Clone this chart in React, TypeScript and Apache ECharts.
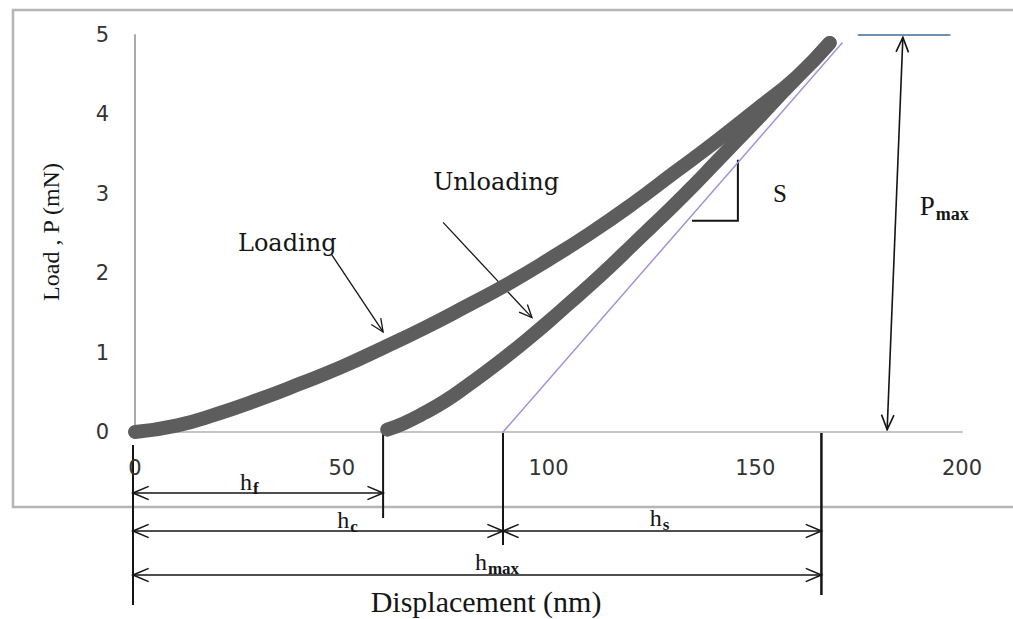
import React, { useEffect, useRef } from "react";
import * as echarts from "echarts";

// ---- data ----
const xTicks = [0, 50, 100, 150, 200];
const yTicks = [0, 1, 2, 3, 4, 5];

const loadingDepth = [0, 10, 20, 30, 40, 50, 60, 70, 80, 90, 100, 110, 120, 130, 140, 150, 160, 168];
const loadingLoad = [0, 0.08, 0.23, 0.41, 0.61, 0.82, 1.06, 1.31, 1.58, 1.86, 2.17, 2.5, 2.86, 3.25, 3.64, 4.05, 4.47, 4.9];

const unloadingDepth = [61, 65, 70, 75, 80, 85, 90, 95, 100, 105, 110, 115, 120, 125, 130, 135, 140, 145, 150, 155, 160, 165, 168];
const unloadingLoad = [0.03, 0.11, 0.24, 0.39, 0.57, 0.76, 0.96, 1.17, 1.39, 1.62, 1.85, 2.09, 2.34, 2.59, 2.84, 3.1, 3.37, 3.64, 3.91, 4.19, 4.46, 4.73, 4.9];

const tangentDepth = [89, 171];
const tangentLoad = [0, 4.9];

const pmaxLineDepth = [175, 197];
const pmaxLineLoad = [5, 5];

// key depths / loads used by the annotations
const hf = 60;
const hc = 89;
const hmax = 166;
const pmaxArrowTop = [185.7, 4.97];
const pmaxArrowBottom = [181.9, 0.03];
const loadingArrow = [[47.6, 2.23], [60, 1.26]];
const unloadingArrow = [[74.5, 2.64], [96, 1.44]];
const slopeTri = { x0: 134.7, x1: 145.8, yTop: 3.43, yBot: 2.66 };

const zip = (a: number[], b: number[]) => a.map((v, i) => [v, b[i]]);

const CURVE = "#5d5d5d";
const INK = "#151515";

export default function App() {
  const ref = useRef<HTMLDivElement | null>(null);
  useEffect(() => {
    const el = ref.current!;
    const chart = echarts.init(el, null, { renderer: "svg" });
    const lineSeries = (data: number[][], color: string, width: number, z: number) => ({
      type: "line",
      data,
      smooth: 0.5,
      showSymbol: false,
      symbol: "none",
      clip: false,
      z,
      lineStyle: { color, width, cap: "round", join: "round" },
      silent: true,
    });
    chart.setOption({
      animation: false,
      backgroundColor: "#ffffff",
      grid: { left: 135, right: 51, top: 35, bottom: 187, containLabel: false, outerBoundsMode: "none" },
      xAxis: {
        type: "value",
        min: 0,
        max: 200,
        interval: 50,
        axisLine: { show: true, onZero: false, lineStyle: { color: "#c4c4c4", width: 2 } },
        axisTick: { show: false },
        splitLine: { show: false },
        axisLabel: {
          margin: 25,
          color: "#333",
          fontFamily: "DejaVu Sans",
          fontSize: 21,
          formatter: (v: number) => (xTicks.includes(v) ? String(v) : ""),
        },
      },
      yAxis: {
        type: "value",
        min: 0,
        max: 5,
        interval: 1,
        axisLine: { show: true, onZero: false, lineStyle: { color: "#ababab", width: 2 } },
        axisTick: { show: false },
        splitLine: { show: false },
        axisLabel: {
          margin: 26,
          color: "#333",
          fontFamily: "DejaVu Sans",
          fontSize: 21,
          formatter: (v: number) => (yTicks.includes(v) ? String(v) : ""),
        },
      },
      series: [
        lineSeries(zip(tangentDepth, tangentLoad), "#a592d6", 1.5, 1),
        lineSeries(zip(pmaxLineDepth, pmaxLineLoad), "#6f8fb5", 2, 1),
        lineSeries(zip(loadingDepth, loadingLoad), CURVE, 14, 2),
        lineSeries(zip(unloadingDepth, unloadingLoad), CURVE, 14, 2),
      ],
    });

    const P = (x: number, y: number) => chart.convertToPixel({ gridIndex: 0 }, [x, y]) as number[];
    const X = (x: number) => P(x, 0)[0];
    const Y0 = P(0, 0)[1];

    const seg = (x1: number, y1: number, x2: number, y2: number, w = 2, stroke = INK) => ({
      type: "line",
      silent: true,
      shape: { x1, y1, x2, y2 },
      style: { stroke, lineWidth: w },
    });
    const head = (tx: number, ty: number, fx: number, fy: number, len = 17, spread = 0.4, w = 1.6) => {
      const a = Math.atan2(ty - fy, tx - fx);
      return {
        type: "polyline",
        silent: true,
        shape: {
          points: [
            [tx - len * Math.cos(a - spread), ty - len * Math.sin(a - spread)],
            [tx, ty],
            [tx - len * Math.cos(a + spread), ty - len * Math.sin(a + spread)],
          ],
        },
        style: { stroke: INK, lineWidth: w, fill: null },
      };
    };
    const txt = (text: string, x: number, y: number, font: string, align = "left", vAlign = "middle", extra: any = {}) => ({
      type: "text",
      silent: true,
      x,
      y,
      ...extra,
      style: { text, x: 0, y: 0, font, fill: INK, align, verticalAlign: vAlign, textAlign: align, textVerticalAlign: vAlign },
    });
    const SERIF_T = '"Liberation Serif", "Times New Roman", serif';
    const SERIF_D = '"DejaVu Serif", serif';
    const sub = (h: string, s: string, x: number, yTop: number, hSize = 24, sSize = 17) => {
      const hw = hSize * 0.5;
      return [
        txt(h, x, yTop, `${hSize}px ${SERIF_T}`, "left", "top"),
        txt(s, x + hw + 1, yTop + hSize * 0.42, `bold ${sSize}px ${SERIF_T}`, "left", "top"),
      ];
    };

    const x0 = X(0) - 2;
    const xf = X(hf);
    const xc = X(hc);
    const xm = X(hmax);
    const rowF = 493;
    const rowC = 531;
    const rowM = 575;

    const g: any[] = [];
    // outer frame
    g.push({
      type: "rect",
      silent: true,
      z: -10,
      shape: { x: 13, y: 10, width: 1100, height: 497 },
      style: { stroke: "#b5b5b5", lineWidth: 2.5, fill: null },
    });
    // dimension verticals
    g.push(seg(x0, Y0 + 13, x0, 605));
    g.push(seg(xf, Y0, xf, 518));
    g.push(seg(xc, Y0, xc, 545));
    g.push(seg(xm, Y0, xm, 595, 2.5));
    // h_f
    g.push(seg(x0, rowF, xf, rowF, 1.6), head(x0, rowF, xf, rowF), head(xf, rowF, x0, rowF));
    // h_c and h_s
    g.push(seg(x0, rowC, xm, rowC, 1.6), head(x0, rowC, xc, rowC), head(xc, rowC, x0, rowC));
    g.push(head(xc, rowC, xm, rowC), head(xm, rowC, xc, rowC));
    // h_max
    g.push(seg(x0, rowM, xm, rowM, 1.6), head(x0, rowM, xm, rowM), head(xm, rowM, x0, rowM));
    // labels of the dimensions
    g.push(...sub("h", "f", X(25.4), 470));
    g.push(...sub("h", "c", X(48.9), 508));
    g.push(...sub("h", "s", X(124.5), 506));
    g.push(...sub("h", "max", X(82.2), 550));

    // P_max arrow
    const [pt0, pt1] = [P(pmaxArrowTop[0], pmaxArrowTop[1]), P(pmaxArrowBottom[0], pmaxArrowBottom[1])];
    g.push(seg(pt0[0], pt0[1], pt1[0], pt1[1], 1.6));
    g.push(head(pt0[0], pt0[1], pt1[0], pt1[1], 16, 0.4), head(pt1[0], pt1[1], pt0[0], pt0[1], 16, 0.4));
    const pp = P(189.8, 2.85);
    g.push(txt("P", pp[0], pp[1] - 13, `27px ${SERIF_T}`, "left", "top"));
    g.push(txt("max", pp[0] + 16, pp[1] - 1, `bold 18px ${SERIF_T}`, "left", "top"));

    // slope triangle
    const st = P(slopeTri.x1, slopeTri.yTop);
    const sb = P(slopeTri.x1, slopeTri.yBot);
    const sl = P(slopeTri.x0, slopeTri.yBot);
    g.push({
      type: "polyline",
      silent: true,
      shape: { points: [st, sb, sl] },
      style: { stroke: INK, lineWidth: 2, fill: null },
    });
    const sp = P(154.3, 3.01);
    g.push(txt("S", sp[0], sp[1], `25px ${SERIF_T}`, "left", "middle"));

    // Loading / Unloading arrows + labels
    const la = loadingArrow.map(([a, b]) => P(a, b));
    g.push(seg(la[0][0], la[0][1], la[1][0], la[1][1], 1.3), head(la[1][0], la[1][1], la[0][0], la[0][1], 14, 0.42, 1.3));
    const ua = unloadingArrow.map(([a, b]) => P(a, b));
    g.push(seg(ua[0][0], ua[0][1], ua[1][0], ua[1][1], 1.3), head(ua[1][0], ua[1][1], ua[0][0], ua[0][1], 14, 0.42, 1.3));
    const lp = P(24.9, 2.38);
    g.push(txt("Loading", lp[0], lp[1], `24px ${SERIF_D}`, "left", "middle"));
    const up = P(72.1, 3.15);
    g.push(txt("Unloading", up[0], up[1], `24px ${SERIF_D}`, "left", "middle"));

    // axis titles
    g.push(txt("Load , P (mN)", 51, 232, `24px ${SERIF_T}`, "center", "middle", { rotation: Math.PI / 2 }));
    g.push(txt("Displacement (nm)", 486, 601, `30px ${SERIF_T}`, "center", "middle"));

    chart.setOption({ graphic: { elements: g } });

    return () => chart.dispose();
  }, []);
  return <div ref={ref} style={{ position: "fixed", left: 0, top: 0, width: 1013, height: 619 }} />;
}
